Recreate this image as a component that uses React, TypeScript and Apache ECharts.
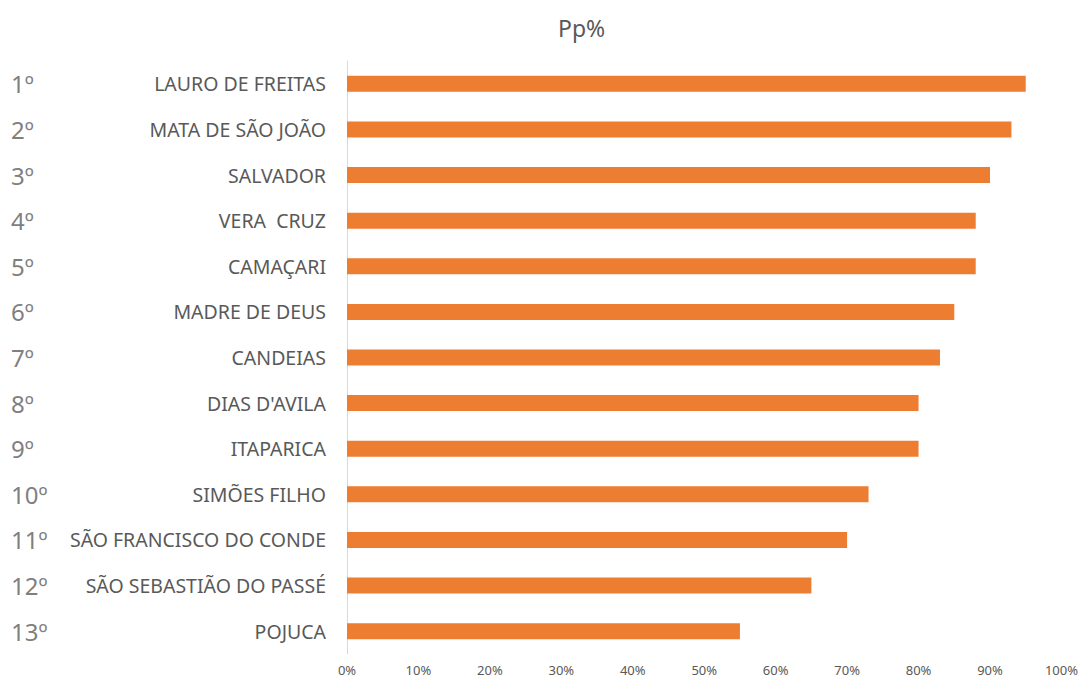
import React, { useEffect, useRef } from "react";
import * as echarts from "echarts";

const ranks = ["1º", "2º", "3º", "4º", "5º", "6º", "7º", "8º", "9º", "10º", "11º", "12º", "13º"];
const municipios = [
  "LAURO DE FREITAS",
  "MATA DE SÃO JOÃO",
  "SALVADOR",
  "VERA  CRUZ",
  "CAMAÇARI",
  "MADRE DE DEUS",
  "CANDEIAS",
  "DIAS D'AVILA",
  "ITAPARICA",
  "SIMÕES FILHO",
  "SÃO FRANCISCO DO CONDE",
  "SÃO SEBASTIÃO DO PASSÉ",
  "POJUCA",
];
const ppValues = [0.95, 0.93, 0.9, 0.88, 0.88, 0.85, 0.83, 0.8, 0.8, 0.73, 0.7, 0.65, 0.55];
const xTicks = { min: 0, max: 1, interval: 0.1 };

export default function App() {
  const ref = useRef<HTMLDivElement>(null);
  useEffect(() => {
    if (!ref.current) return;
    const chart = echarts.init(ref.current, undefined, { renderer: "svg" });
    chart.setOption({
      animation: false,
      backgroundColor: "#ffffff",
      title: {
        text: "Pp%",
        left: 553,
        top: 11,
        textStyle: { fontFamily: "Noto Sans", fontSize: 23, fontWeight: "normal", color: "#595959" },
      },
      grid: { left: 347, right: 19, top: 61, bottom: 28 },
      xAxis: {
        type: "value",
        min: xTicks.min,
        max: xTicks.max,
        interval: xTicks.interval,
        axisLine: { show: false },
        axisTick: { show: false },
        splitLine: { show: false },
        axisLabel: {
          formatter: (v: number) => Math.round(v * 100) + "%",
          color: "#595959",
          fontFamily: "Noto Sans",
          fontSize: 13,
          margin: 9,
        },
      },
      yAxis: [
        {
          type: "category",
          data: municipios,
          inverse: true,
          axisLine: { show: true, lineStyle: { color: "#d9d9d9", width: 1 } },
          axisTick: { show: false },
          axisLabel: {
            color: "#595959",
            fontFamily: "Noto Sans",
            fontSize: 19.5,
            margin: 21,
          },
        },
        {
          type: "category",
          data: ranks,
          inverse: true,
          position: "left",
          axisLine: { show: false },
          axisTick: { show: false },
          axisLabel: {
            color: "#7f7f7f",
            fontFamily: "Noto Sans",
            fontSize: 24,
            align: "left",
            margin: 336,
          },
        },
      ],
      series: [
        {
          type: "bar",
          data: ppValues,
          yAxisIndex: 0,
          barWidth: 16,
          itemStyle: { color: "#ED7D31" },
        },
      ],
    });
    return () => chart.dispose();
  }, []);
  return <div ref={ref} style={{ width: 1081, height: 682, position: "absolute", left: 0, top: 0 }} />;
}
